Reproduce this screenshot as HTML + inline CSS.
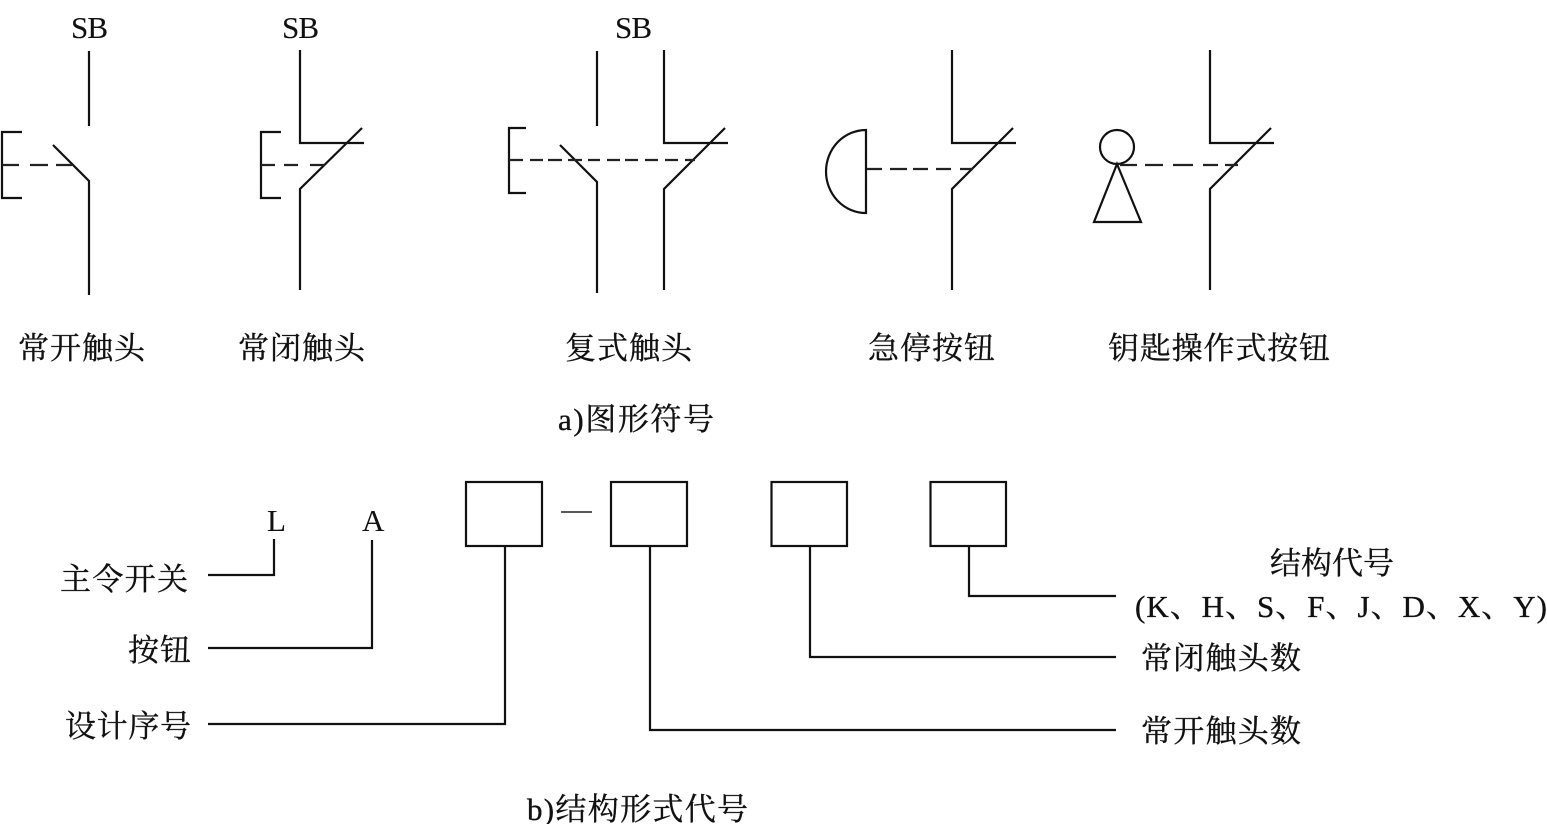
<!DOCTYPE html>
<html><head><meta charset="utf-8"><style>
html,body{margin:0;padding:0;background:#fff}
svg{display:block}
text{font-family:"Liberation Serif","Noto Serif CJK SC",serif;fill:#111;stroke:#111;stroke-width:.35px;font-size:31px}
.n{font-size:31px;stroke-width:.1px}
.l{fill:none;stroke:#111;stroke-width:2.2}
.d{fill:none;stroke:#222;stroke-width:2.2}
</style></head><body>
<svg width="1547" height="824" viewBox="0 0 1547 824" xmlns="http://www.w3.org/2000/svg">
<rect width="1547" height="824" fill="#fff"/>
<!-- symbol 1 -->
<path class="l" d="M89 51V126M53 145L89 181V295M22 132H2V198H22"/>
<path class="d" d="M2 165H19M30 165H48M56 165H72"/>
<!-- symbol 2 -->
<path class="l" d="M300 50V143H364M362 128L300 189V290M281 132H261V198H281"/>
<path class="d" d="M261 165H275M284 165H298M310 165H325"/>
<!-- symbol 3 -->
<path class="l" d="M597 51V126M560 145L597 182V293M664 50V143H728M725 128L664 189V290M526 128H509V193H526"/>
<path class="d" d="M509 160H523M530 160H543M548 160H562M568 160H582M588 160H600M607 160H620M625 160H638M645 160H658M665 160H678M685 160H695"/>
<!-- symbol 4 -->
<path class="l" d="M952 50V143H1016M1013 128L952 189V290M866 130V213A40 41.5 0 0 1 866 130Z"/>
<path class="d" d="M867 169H882M890 169H907M913 169H928M936 169H951M960 169H973"/>
<!-- symbol 5 -->
<path class="l" d="M1210 50V143H1274M1271 128L1210 189V290"/>
<circle class="l" cx="1117" cy="147" r="17"/>
<path class="l" d="M1117 164L1094 222H1141Z"/>
<path class="d" d="M1120 165H1137M1145 165H1163M1173 165H1193M1203 165H1218M1225 165H1238"/>
<!-- labels a -->
<text class="n" x="71" y="38" textLength="37">SB</text>
<text class="n" x="282" y="38" textLength="37">SB</text>
<text class="n" x="615" y="38" textLength="37">SB</text>
<text x="18" y="359" textLength="127">常开触头</text>
<text x="238" y="359" textLength="127">常闭触头</text>
<text x="565" y="359" textLength="127">复式触头</text>
<text x="868" y="359" textLength="127">急停按钮</text>
<text x="1108" y="359" textLength="222">钥匙操作式按钮</text>
<text x="558" y="430" textLength="156">a)图形符号</text>
<!-- lower -->
<rect class="l" x="466" y="482" width="76" height="64"/>
<rect class="l" x="611" y="482" width="76" height="64"/>
<rect class="l" x="771.5" y="482" width="75.5" height="64"/>
<rect class="l" x="930.5" y="482" width="75.5" height="64"/>
<path fill="none" stroke="#222" stroke-width="1.5" d="M561 512H592"/>
<path class="l" d="M208 575H274V539M208 648H372V540M208 724H505V546M650 546V730H1116M810 546V657H1116M969 546V596H1116"/>
<text class="n" x="267" y="531" textLength="19">L</text>
<text class="n" x="362" y="531" textLength="22">A</text>
<text x="60" y="590" textLength="128">主令开关</text>
<text x="128" y="661" textLength="63">按钮</text>
<text x="65" y="737" textLength="126">设计序号</text>
<text x="1270" y="574" textLength="124">结构代号</text>
<text x="1135" y="617" textLength="412" font-size="30">(K、H、S、F、J、D、X、Y)</text>
<text x="1141" y="669" textLength="160">常闭触头数</text>
<text x="1141" y="742" textLength="160">常开触头数</text>
<text x="527" y="820" textLength="221">b)结构形式代号</text>
</svg>
</body></html>
